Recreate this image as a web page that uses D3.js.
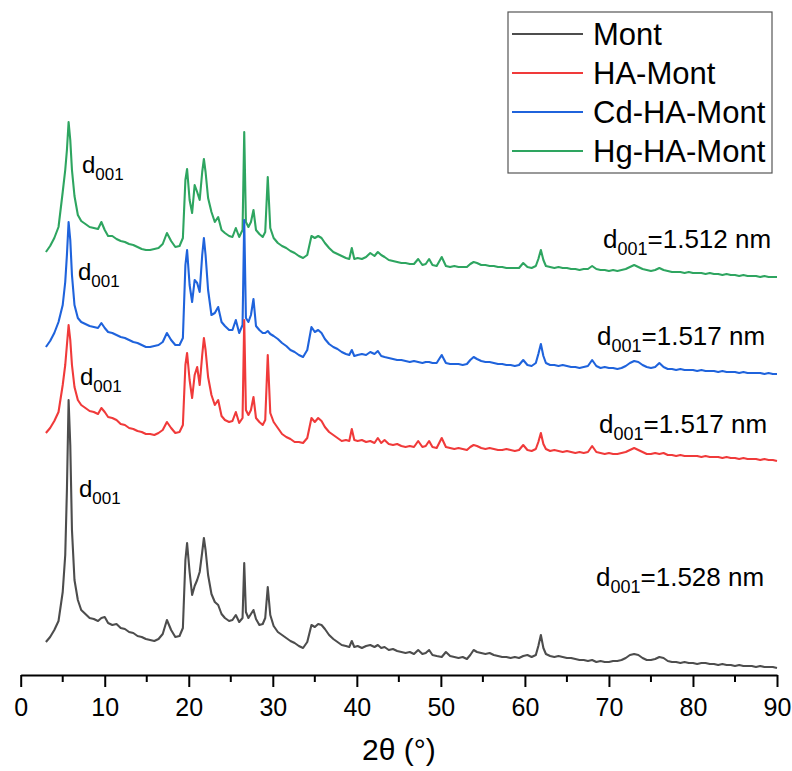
<!DOCTYPE html>
<html>
<head>
<meta charset="utf-8">
<script src="https://cdn.jsdelivr.net/npm/d3@7/dist/d3.min.js"></script>
<style>
  html, body { margin: 0; padding: 0; background: #fff; }
  svg { display: block; font-family: "Liberation Sans", Arial, sans-serif; }
</style>
</head>
<body>
<svg id="chart" width="792" height="771"></svg>
<script>
// ---------- DATA ----------
const seriesNames = ["Mont", "HA-Mont", "Cd-HA-Mont", "Hg-HA-Mont"];
const seriesColors = ["#4d4d4d", "#f03a3a", "#1f63dc", "#2ea560"];
const stackOffsets = [0, 207, 294, 390];          // vertical offsets (a.u.)
const dLabels = ["d001=1.528 nm", "d001=1.517 nm", "d001=1.517 nm", "d001=1.512 nm"];
const xTicks = [0, 10, 20, 30, 40, 50, 60, 70, 80, 90];
const xMinorTicks = [5, 15, 25, 35, 45, 55, 65, 75, 85];

const twoTheta = [
  3, 3.5, 4, 4.5, 5, 5.3, 5.5, 5.7, 5.9, 6.1,
  6.4, 6.8, 7.2, 7.7, 8.2, 8.7, 9.2, 9.6, 10.0, 10.4,
  10.9, 11.4, 11.9, 12.4, 12.9, 13.4, 13.9, 14.4, 14.9, 15.4,
  15.9, 16.4, 16.9, 17.4, 17.9, 18.4, 18.9, 19.3, 19.6, 19.8,
  20.1, 20.4, 20.7, 21.0, 21.3, 21.6, 21.8, 22.0, 22.3, 22.7,
  23.1, 23.5, 23.9, 24.3, 24.8, 25.2, 25.6, 26.0, 26.4, 26.6,
  26.8, 27.1, 27.4, 27.7, 28.0, 28.4, 28.8, 29.1, 29.4, 29.7,
  30.1, 30.6, 31.1, 31.6, 32.1, 32.6, 33.1, 33.6, 34.1, 34.6,
  35.0, 35.4, 35.8, 36.2, 36.7, 37.2, 37.7, 38.2, 38.7, 39.1,
  39.4, 39.7, 40.1, 40.6, 41.1, 41.6, 42.1, 42.5, 42.9, 43.3,
  43.8, 44.3, 44.8, 45.3, 45.8, 46.3, 46.8, 47.3, 47.8, 48.2,
  48.6, 49.0, 49.5, 50.1, 50.6, 51.1, 51.6, 52.1, 52.6, 53.1,
  53.5, 53.9, 54.3, 54.8, 55.3, 55.8, 56.3, 56.8, 57.3, 57.8,
  58.3, 58.8, 59.3, 59.8, 60.3, 60.8, 61.3, 61.6, 61.9, 62.2,
  62.5, 63.0, 63.5, 64.0, 64.5, 65.0, 65.5, 66.0, 66.5, 67.0,
  67.5, 68.0, 68.5, 69.0, 69.5, 70.0, 70.5, 71.0, 71.5, 72.0,
  72.5, 73.0, 73.5, 74.0, 74.5, 75.0, 75.5, 76.0, 76.5, 77.0,
  77.5, 78.0, 78.5, 79.0, 79.5, 80.0, 80.5, 81.0, 81.5, 82.0,
  82.5, 83.0, 83.5, 84.0, 84.5, 85.0, 85.5, 86.0, 86.5, 87.0,
  87.5, 88.0, 88.5, 89.0, 89.5, 90.0
];

const mont = [
  33, 38, 45, 54, 83, 120, 185, 275, 230, 145,
  95, 75, 65, 61, 57, 56, 54, 57, 58, 52,
  50, 51, 47, 46, 43, 42, 39, 38, 36, 35,
  34, 36, 41, 55, 45, 38, 39, 47, 115, 132,
  103, 80, 89, 95, 103, 123, 137, 125, 100, 81,
  73, 70, 61, 57, 54, 55, 60, 53, 57, 112,
  63, 57, 61, 65, 56, 50, 51, 57, 88, 60,
  49, 43, 40, 37, 34, 32, 29, 27, 33, 50,
  48, 51, 50, 46, 40, 36, 33, 30, 29, 28,
  34, 28, 29, 27, 29, 30, 28, 30, 27, 28,
  25, 26, 24, 23, 22, 23, 21, 25, 21, 22,
  25, 20, 19, 18, 23, 19, 18, 17, 18, 16,
  20, 25, 23, 22, 21, 22, 20, 19, 18, 18,
  17, 18, 17, 19, 20, 18, 20, 29, 40, 27,
  21, 19, 18, 19, 18, 17, 17, 16, 15, 15,
  14, 15, 13, 14, 13, 13, 14, 14, 15, 17,
  20, 21, 20, 17, 15, 15, 16, 18, 17, 14,
  13, 13, 12, 13, 12, 12, 11, 12, 12, 11,
  11, 10, 11, 10, 10, 9, 10, 9, 9, 9,
  8, 9, 8, 8, 8, 7
];

const haMont = [
  35, 40, 47, 56, 83, 103, 123, 143, 128, 103,
  81, 68, 63, 60, 57, 56, 54, 60, 56, 51,
  50, 48, 44, 43, 40, 39, 37, 36, 34, 34,
  33, 35, 38, 46, 40, 35, 36, 43, 103, 115,
  88, 70, 93, 101, 83, 113, 130, 118, 91, 73,
  63, 68, 52, 48, 46, 47, 56, 45, 50, 148,
  58, 53, 58, 71, 50, 46, 43, 48, 113, 55,
  46, 40, 34, 31, 29, 26, 26, 25, 30, 50,
  46, 50, 47, 41, 36, 33, 30, 27, 28, 27,
  39, 28, 27, 28, 26, 27, 25, 30, 25, 28,
  24, 23, 24, 22, 21, 22, 21, 27, 21, 22,
  27, 21, 20, 30, 21, 20, 19, 20, 19, 18,
  21, 23, 22, 20, 19, 20, 19, 18, 18, 19,
  18, 17, 18, 23, 18, 17, 19, 26, 35, 24,
  19, 17, 18, 17, 16, 17, 16, 15, 16, 15,
  16, 22, 16, 15, 14, 15, 14, 14, 15, 16,
  18, 20, 18, 16, 14, 14, 15, 14, 15, 13,
  13, 12, 13, 12, 12, 12, 12, 11, 12, 11,
  11, 11, 10, 11, 10, 10, 9, 10, 9, 9,
  9, 8, 9, 8, 8, 7
];

const cdHaMont = [
  34, 40, 48, 59, 76, 99, 126, 159, 141, 106,
  76, 63, 59, 57, 55, 54, 53, 58, 53, 49,
  48, 46, 44, 43, 41, 39, 38, 36, 34, 34,
  35, 36, 39, 48, 41, 36, 36, 43, 116, 131,
  96, 79, 101, 98, 89, 126, 143, 126, 91, 66,
  68, 74, 59, 55, 51, 51, 61, 48, 56, 161,
  63, 59, 66, 82, 55, 51, 48, 48, 50, 47,
  45, 42, 38, 35, 31, 29, 26, 24, 31, 54,
  49, 51, 48, 42, 37, 34, 32, 29, 27, 26,
  31, 25, 26, 27, 26, 29, 27, 30, 25, 24,
  23, 22, 21, 21, 20, 19, 20, 19, 18, 19,
  19, 18, 18, 26, 18, 17, 17, 17, 16, 17,
  21, 24, 22, 20, 19, 19, 18, 17, 17, 16,
  16, 15, 16, 21, 16, 15, 18, 27, 37, 25,
  18, 16, 16, 15, 16, 15, 14, 14, 13, 14,
  15, 21, 15, 13, 14, 13, 13, 12, 13, 15,
  18, 20, 19, 16, 14, 13, 14, 18, 14, 12,
  12, 11, 12, 11, 11, 11, 10, 11, 10, 10,
  10, 9, 10, 9, 9, 9, 8, 9, 8, 8,
  8, 8, 7, 8, 7, 7
];

const hgHaMont = [
  33, 39, 47, 58, 93, 115, 135, 163, 145, 115,
  89, 70, 64, 61, 58, 57, 56, 63, 55, 49,
  49, 46, 44, 43, 41, 40, 38, 36, 35, 35,
  36, 37, 41, 52, 44, 38, 39, 47, 105, 116,
  85, 72, 100, 93, 85, 113, 126, 113, 87, 73,
  63, 68, 55, 52, 49, 48, 57, 48, 55, 153,
  63, 58, 63, 75, 55, 51, 48, 53, 108, 57,
  47, 42, 39, 37, 34, 32, 29, 27, 30, 49,
  47, 49, 47, 42, 37, 33, 31, 29, 27, 26,
  37, 26, 27, 26, 28, 32, 29, 33, 30, 28,
  25, 24, 23, 22, 22, 21, 21, 26, 20, 21,
  26, 20, 19, 28, 19, 18, 19, 18, 18, 18,
  21, 23, 22, 20, 20, 19, 19, 18, 18, 17,
  17, 17, 17, 22, 18, 17, 19, 26, 35, 25,
  19, 18, 17, 18, 17, 17, 16, 16, 15, 16,
  16, 19, 16, 15, 15, 14, 15, 14, 15, 16,
  18, 20, 18, 16, 15, 14, 15, 17, 15, 14,
  13, 13, 13, 12, 13, 12, 12, 12, 11, 12,
  11, 11, 10, 11, 10, 10, 9, 10, 9, 9,
  9, 8, 9, 8, 8, 8
];

const intensities = [mont, haMont, cdHaMont, hgHaMont];

// ---------- CHART ----------
const svg = d3.select("#chart");
const x = d3.scaleLinear().domain([0, 90]).range([20.7, 777]);
const y = d3.scaleLinear().domain([0, 675]).range([675, 0]);

const line = d3.line()
  .x(d => x(d[0]))
  .y(d => y(d[1]));

// draw in reverse order so Mont ends on top
for (let s = 3; s >= 0; s--) {
  const vals = intensities[s];
  const n = Math.min(vals.length, twoTheta.length);
  const pts = [];
  for (let i = 0; i < n; i++) pts.push([twoTheta[i], vals[i] + stackOffsets[s]]);
  svg.append("path")
    .datum(pts)
    .attr("fill", "none")
    .attr("stroke", seriesColors[s])
    .attr("stroke-width", 2.1)
    .attr("stroke-linejoin", "round")
    .attr("d", line);
}

// x axis
const axisG = svg.append("g").attr("transform", `translate(0,${y(0)})`);
axisG.call(d3.axisBottom(x).tickValues(xTicks).tickSize(12).tickSizeOuter(0).tickPadding(11).tickFormat(d3.format("d")));
axisG.select(".domain").attr("stroke", "#000").attr("stroke-width", 2.2);
axisG.selectAll(".tick line").attr("stroke", "#000").attr("stroke-width", 2);
axisG.selectAll(".tick text").attr("font-size", 25).attr("font-family", "Liberation Sans, Arial, sans-serif").attr("fill", "#000");
axisG.selectAll(".minor").data(xMinorTicks).enter().append("line")
  .attr("class", "minor")
  .attr("x1", d => x(d)).attr("x2", d => x(d))
  .attr("y1", 0).attr("y2", 7)
  .attr("stroke", "#000").attr("stroke-width", 2);

// axis title
svg.append("text")
  .attr("x", x(45)).attr("y", 760)
  .attr("text-anchor", "middle")
  .attr("font-size", 30)
  .text("2θ (°)");

// d001 labels near the first peak
const peakLabelPos = [[79, 497], [80, 385], [78, 280], [82, 173]];
peakLabelPos.forEach(p => {
  const t = svg.append("text").attr("x", p[0]).attr("y", p[1]).attr("font-size", 24);
  t.append("tspan").text("d");
  t.append("tspan").attr("font-size", 17).attr("dy", 7).text("001");
});

// d001 value labels at right
const valueLabelPos = [[596, 586], [599, 433], [597, 345], [603, 248]];
valueLabelPos.forEach((p, i) => {
  const txt = dLabels[i];
  const t = svg.append("text").attr("x", p[0]).attr("y", p[1]).attr("font-size", 26);
  t.append("tspan").text(txt.slice(0, 1));
  t.append("tspan").attr("font-size", 18).attr("dy", 7).text(txt.slice(1, 4));
  t.append("tspan").attr("dy", -7).text(txt.slice(4));
});

// legend
const lg = svg.append("g");
lg.append("rect").attr("x", 508).attr("y", 12).attr("width", 264).attr("height", 161)
  .attr("fill", "#fff").attr("stroke", "#555").attr("stroke-width", 1.2);
seriesNames.forEach((name, i) => {
  const cy = 34 + i * 39;
  lg.append("line").attr("x1", 512).attr("x2", 583).attr("y1", cy).attr("y2", cy)
    .attr("stroke", seriesColors[i]).attr("stroke-width", 2);
  lg.append("text").attr("x", 593).attr("y", cy + 11).attr("font-size", 31).text(name);
});
</script>
</body>
</html>
